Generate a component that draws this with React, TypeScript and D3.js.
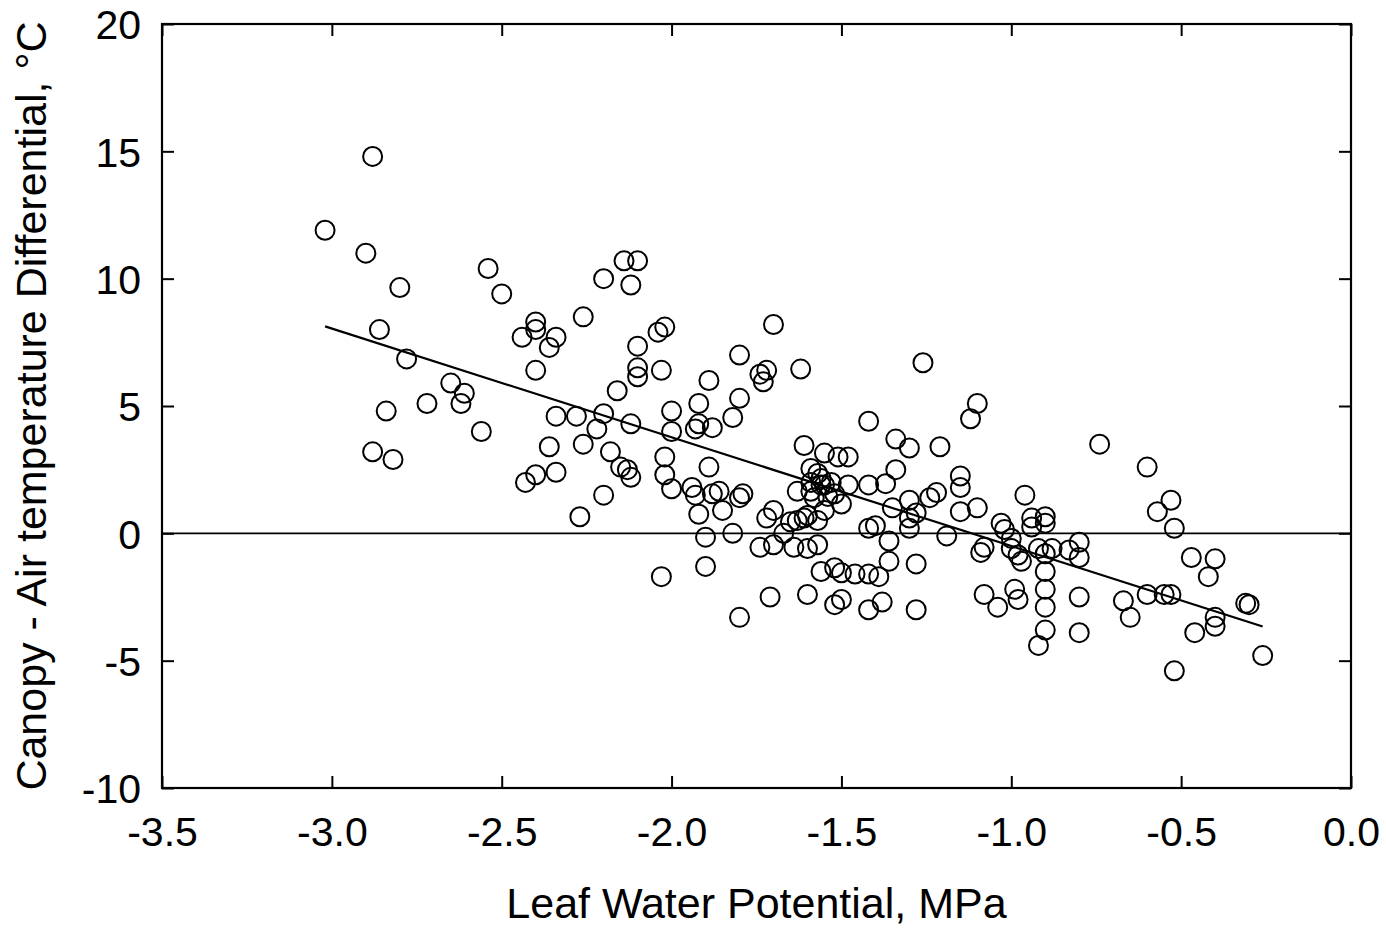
import { useEffect, useRef } from 'react';
import * as d3 from 'd3';

// Leaf water potential (MPa) and canopy - air temperature differential (°C)
const leafPotential = [
  -3.02, -2.88, -2.90, -2.80, -2.86, -2.78, -2.84, -2.88, -2.82, -2.72,
  -2.65, -2.61, -2.62, -2.56, -2.54, -2.50, -2.44, -2.40, -2.40, -2.36,
  -2.34, -2.40, -2.34, -2.36, -2.34, -2.40, -2.43, -2.26, -2.28, -2.26,
  -2.27, -2.20, -2.20, -2.22, -2.18, -2.16, -2.20, -2.15, -2.14, -2.10,
  -2.12, -2.10, -2.10, -2.10, -2.12, -2.13, -2.12, -2.04, -2.02, -2.03,
  -2.00, -2.00, -2.02, -2.02, -2.00, -2.03, -1.94, -1.93, -1.92, -1.93,
  -1.92, -1.89, -1.88, -1.89, -1.88, -1.92, -1.90, -1.90, -1.86, -1.85,
  -1.80, -1.80, -1.82, -1.80, -1.79, -1.82, -1.80, -1.74, -1.72, -1.73,
  -1.70, -1.72, -1.70, -1.74, -1.70, -1.71, -1.67, -1.62, -1.63, -1.65,
  -1.63, -1.61, -1.60, -1.64, -1.61, -1.60, -1.59, -1.59, -1.59, -1.57,
  -1.56, -1.55, -1.58, -1.56, -1.57, -1.60, -1.57, -1.56, -1.55, -1.53,
  -1.54, -1.52, -1.55, -1.51, -1.48, -1.50, -1.52, -1.50, -1.52, -1.50,
  -1.48, -1.46, -1.42, -1.42, -1.42, -1.40, -1.42, -1.42, -1.39, -1.38,
  -1.37, -1.36, -1.36, -1.34, -1.34, -1.35, -1.30, -1.30, -1.30, -1.30,
  -1.28, -1.28, -1.28, -1.26, -1.24, -1.22, -1.21, -1.19, -1.15, -1.15,
  -1.15, -1.12, -1.10, -1.10, -1.09, -1.08, -1.08, -1.04, -1.03, -1.02,
  -1.00, -1.00, -0.98, -0.99, -0.98, -0.96, -0.97, -0.94, -0.94, -0.92,
  -0.92, -0.90, -0.90, -0.90, -0.90, -0.90, -0.90, -0.90, -0.88, -0.83,
  -0.80, -0.80, -0.80, -0.80, -0.74, -0.67, -0.65, -0.60, -0.60, -0.57,
  -0.55, -0.53, -0.53, -0.52, -0.52, -0.47, -0.46, -0.42, -0.40, -0.40,
  -0.40, -0.31, -0.30, -0.26,
];

const tempDiff = [
  11.9, 14.8, 11.0, 9.65, 8.0, 6.85, 4.8, 3.2, 2.9, 5.1,
  5.9, 5.5, 5.1, 4.0, 10.4, 9.4, 7.7, 8.3, 8.0, 7.3,
  7.7, 6.4, 4.6, 3.4, 2.4, 2.3, 2.0, 8.5, 4.6, 3.5,
  0.65, 10.0, 4.7, 4.1, 3.2, 5.6, 1.5, 2.6, 10.7, 10.7,
  9.75, 7.35, 6.5, 6.15, 4.3, 2.5, 2.2, 7.9, 8.1, 6.4,
  4.8, 4.0, 3.0, 2.3, 1.75, -1.7, 1.8, 1.5, 5.1, 4.1,
  4.3, 6.0, 4.15, 2.6, 1.55, 0.75, -0.15, -1.3, 1.65, 0.9,
  7.0, 5.3, 4.55, 1.4, 1.55, 0.0, -3.3, 6.25, 6.4, 5.95,
  8.2, 0.6, 0.9, -0.55, -0.45, -2.5, 0.0, 6.45, 1.65, 0.45,
  0.5, 0.6, 0.7, -0.55, 3.45, -2.4, 2.0, 1.65, 2.55, 2.35,
  2.15, 1.9, 1.4, 1.9, 0.5, -0.6, -0.45, -1.5, 3.15, 2.0,
  1.45, 1.55, 0.9, 3.0, 3.0, 1.15, -1.35, -1.55, -2.8, -2.6,
  1.9, -1.6, 4.4, 1.9, 0.2, 0.3, -1.6, -3.0, -1.7, -2.7,
  1.95, -0.3, -1.1, 3.7, 2.5, 1.0, 3.35, 1.3, 0.6, 0.2,
  0.8, -1.2, -3.0, 6.7, 1.4, 1.6, 3.4, -0.1, 2.25, 1.8,
  0.85, 4.5, 5.1, 1.0, -0.75, -0.55, -2.4, -2.9, 0.4, 0.15,
  -0.2, -0.6, -0.85, -2.2, -2.6, 1.5, -1.1, 0.6, 0.25, -0.6,
  -4.4, 0.65, 0.4, -0.8, -1.5, -2.2, -2.9, -3.8, -0.6, -0.65,
  -0.35, -0.95, -2.5, -3.9, 3.5, -2.65, -3.3, 2.6, -2.4, 0.85,
  -2.4, 1.3, -2.4, 0.2, -5.4, -0.95, -3.9, -1.7, -1.0, -3.3,
  -3.65, -2.75, -2.8, -4.8,
];

// Fitted regression line: y = intercept + slope * x
const fitIntercept = -4.77;
const fitSlope = -4.27;

const xTicks = [-3.5, -3.0, -2.5, -2.0, -1.5, -1.0, -0.5, 0.0];
const yTicks = [-10, -5, 0, 5, 10, 15, 20];

const W = 1386;
const H = 928;
const margin = { top: 24, right: 35, bottom: 140, left: 162 };
const FONT = '"Liberation Sans", Arial, Helvetica, sans-serif';

// plain hyphen for negatives, like the original
const fmtX = (d: d3.NumberValue) => (+d).toFixed(1);
const fmtY = (d: d3.NumberValue) => String(+d);

export default function App() {
  const svgRef = useRef<SVGSVGElement>(null);

  useEffect(() => {
    if (!svgRef.current) return;
    const svg = d3.select(svgRef.current);
    svg.selectAll('*').remove();

    const x0 = margin.left;
    const x1 = W - margin.right;
    const y0 = margin.top;
    const y1 = H - margin.bottom;

    const xScale = d3.scaleLinear().domain([-3.5, 0]).range([x0, x1]);
    const yScale = d3.scaleLinear().domain([-10, 20]).range([y1, y0]);

    const points = leafPotential.map((v, i) => ({ x: v, y: tempDiff[i] }));

    // zero reference line
    svg.append('line')
      .attr('x1', x0).attr('x2', x1)
      .attr('y1', yScale(0)).attr('y2', yScale(0))
      .attr('stroke', '#000')
      .attr('stroke-width', 1.6);

    // regression line
    const [xmin, xmax] = d3.extent(leafPotential) as [number, number];
    const fit = d3.line<number>()
      .x(d => xScale(d))
      .y(d => yScale(fitIntercept + fitSlope * d));
    svg.append('path')
      .attr('d', fit([xmin, xmax]))
      .attr('fill', 'none')
      .attr('stroke', '#000')
      .attr('stroke-width', 2.2);

    // scatter points
    svg.append('g')
      .selectAll('circle')
      .data(points)
      .join('circle')
      .attr('cx', d => xScale(d.x))
      .attr('cy', d => yScale(d.y))
      .attr('r', 9.5)
      .attr('fill', 'none')
      .attr('stroke', '#000')
      .attr('stroke-width', 2);

    // axes (inward ticks on all sides)
    const tickLen = 12;
    const bottom = svg.append('g')
      .attr('transform', `translate(0,${y1})`)
      .call(d3.axisBottom(xScale).tickValues(xTicks).tickSizeInner(-tickLen).tickSizeOuter(0).tickFormat(fmtX));
    bottom.selectAll('text')
      .attr('y', 58)
      .attr('dy', null)
      .style('font-family', FONT)
      .style('font-size', '41px')
      .style('fill', '#000');

    svg.append('g')
      .attr('transform', `translate(0,${y0})`)
      .call(d3.axisTop(xScale).tickValues(xTicks).tickSizeInner(-tickLen).tickSizeOuter(0).tickFormat(() => ''));

    const left = svg.append('g')
      .attr('transform', `translate(${x0},0)`)
      .call(d3.axisLeft(yScale).tickValues(yTicks).tickSizeInner(-tickLen).tickSizeOuter(0).tickFormat(fmtY));
    left.selectAll('text')
      .attr('x', -21)
      .attr('dy', '0.36em')
      .style('font-family', FONT)
      .style('font-size', '41px')
      .style('fill', '#000');

    svg.append('g')
      .attr('transform', `translate(${x1},0)`)
      .call(d3.axisRight(yScale).tickValues(yTicks).tickSizeInner(-tickLen).tickSizeOuter(0).tickFormat(() => ''));

    svg.selectAll('.domain').remove();
    svg.selectAll('.tick line').attr('stroke', '#000').attr('stroke-width', 2);

    // frame
    svg.append('rect')
      .attr('x', x0).attr('y', y0)
      .attr('width', x1 - x0).attr('height', y1 - y0)
      .attr('fill', 'none')
      .attr('stroke', '#000')
      .attr('stroke-width', 2.2);

    // axis titles
    svg.append('text')
      .attr('x', (x0 + x1) / 2)
      .attr('y', 918)
      .attr('text-anchor', 'middle')
      .style('font-family', FONT)
      .style('font-size', '43px')
      .text('Leaf Water Potential, MPa');

    svg.append('text')
      .attr('transform', `translate(46,${(y0 + y1) / 2}) rotate(-90)`)
      .attr('text-anchor', 'middle')
      .style('font-family', FONT)
      .style('font-size', '43px')
      .text('Canopy - Air temperature Differential, °C');
  }, []);

  return (
    <svg
      ref={svgRef}
      width={W}
      height={H}
      style={{ position: 'absolute', left: 0, top: 0, background: '#fff', display: 'block' }}
    />
  );
}
